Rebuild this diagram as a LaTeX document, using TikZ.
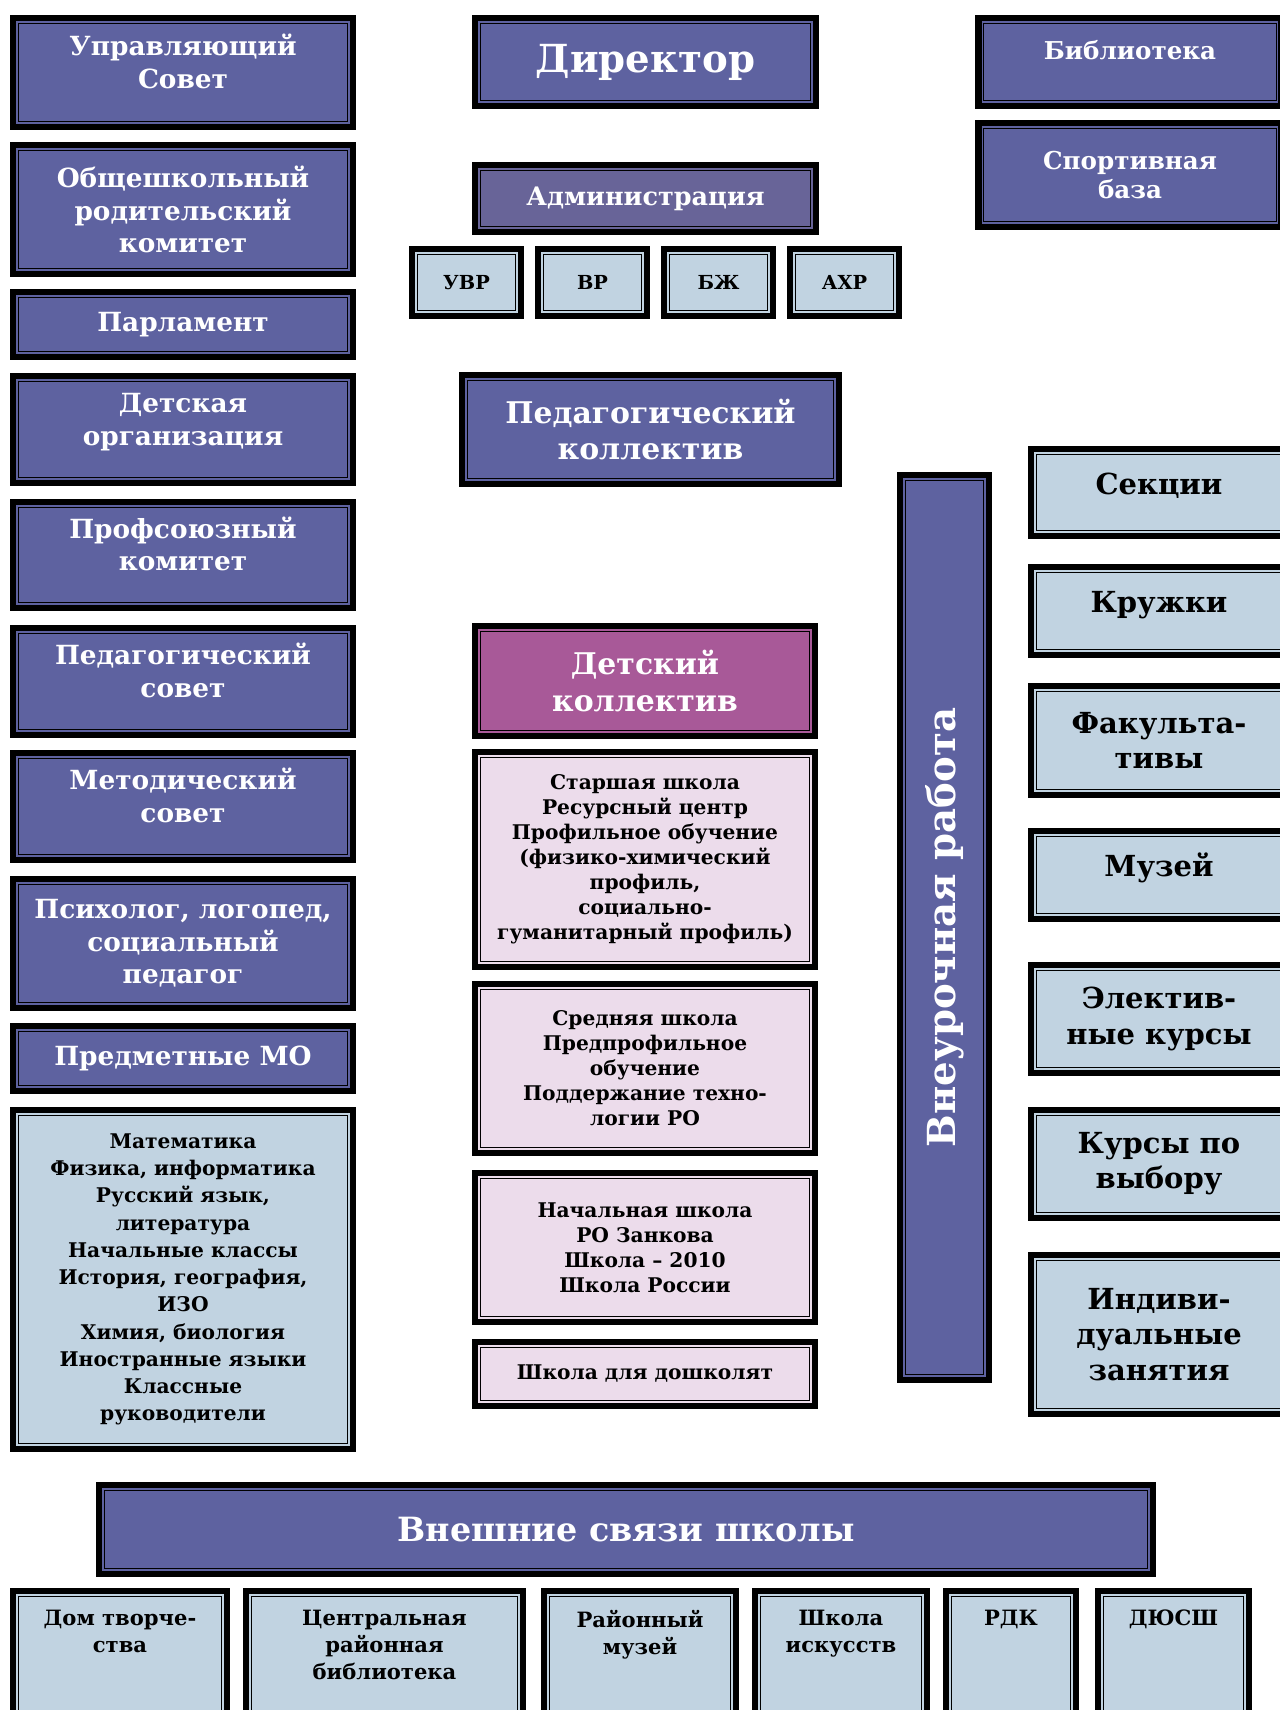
\documentclass[tikz,border=0pt]{standalone}
\usepackage{fontspec}
\setmainfont{DejaVu Serif}
\definecolor{navy}{RGB}{94,98,160}
\definecolor{admblue}{RGB}{104,100,152}
\definecolor{paleblue}{RGB}{193,211,225}
\definecolor{palepink}{RGB}{236,220,235}
\definecolor{plum}{RGB}{168,89,152}
\tikzset{
  framed/.style={fill=#1, draw=black, line width=0.5pt, double=#1, double distance=0.8pt,
    preaction={draw=black, line width=8pt}, inner sep=2pt, align=center},
  darkbox/.style={framed=navy, text=white, font=\bfseries\fontsize{15}{18.5}\selectfont},
  lightbox/.style={framed=paleblue, text=black, font=\bfseries\fontsize{16.5}{20}\selectfont},
  pinkbox/.style={framed=palepink, text=black, font=\bfseries\fontsize{11.5}{14.2}\selectfont},
  smalltext/.style={font=\bfseries\fontsize{11.5}{15.5}\selectfont},
  uptext/.style={text height=30pt, text depth=12pt},
  raised/.style={text height=12pt, text depth=10pt},
  toplabel/.style={anchor=north, inner sep=0pt, yshift=-0.3cm, align=center},
  dims/.style 2 args={minimum width=#1*0.02cm, minimum height=#2*0.02cm},
}
\begin{document}
\begin{tikzpicture}[x=0.02cm, y=-0.02cm]
\useasboundingbox (0,0) rectangle (1280,1710);
\clip (0,0) rectangle (1280,1710);

% left column
\node[darkbox, uptext, dims={332}{101}] (sovet) at (183,72.5) {Управляющий\\Совет};
\node[darkbox, dims={332}{121}] (rodkom) at (183,209.5) {Общешкольный\\родительский\\комитет};
\node[darkbox, dims={332}{57}] (parl) at (183,324.5) {Парламент};
\node[darkbox, uptext, dims={332}{99}] (detorg) at (183,429.5) {Детская\\организация};
\node[darkbox, uptext, dims={332}{98}] (profkom) at (183,555) {Профсоюзный\\комитет};
\node[darkbox, uptext, dims={332}{99}] (pedsov) at (183,681.5) {Педагогический\\совет};
\node[darkbox, uptext, dims={332}{99}] (metsov) at (183,806.5) {Методический\\совет};
\node[darkbox, dims={332}{121}] (psych) at (183,943.5) {Психолог, логопед,\\социальный\\педагог};
\node[darkbox, dims={332}{57}] (predmo) at (183,1058.5) {Предметные МО};
\node[lightbox, smalltext, dims={332}{331}] (subjects) at (183,1279.5)
  {Математика\\Физика, информатика\\Русский язык,\\литература\\Начальные классы\\История, география,\\ИЗО\\Химия, биология\\Иностранные языки\\Классные\\руководители};

% centre column
\node[darkbox, font=\bfseries\fontsize{22}{26}\selectfont, dims={333}{80}] (director) at (645.5,62) {Директор};
\node[darkbox, framed=admblue, font=\bfseries\fontsize{14.5}{17}\selectfont, dims={333}{59}] (admin) at (645.5,198.5) {Администрация};
\node[lightbox, font=\bfseries\fontsize{11}{13}\selectfont, dims={101}{59}] (uvr) at (466.5,282.5) {УВР};
\node[lightbox, font=\bfseries\fontsize{11}{13}\selectfont, dims={101}{59}] (vr) at (592.5,282.5) {ВР};
\node[lightbox, font=\bfseries\fontsize{11}{13}\selectfont, dims={101}{59}] (bzh) at (718.5,282.5) {БЖ};
\node[lightbox, font=\bfseries\fontsize{11}{13}\selectfont, dims={101}{59}] (ahr) at (844.5,282.5) {АХР};
\node[darkbox, font=\bfseries\fontsize{17}{21}\selectfont, dims={369}{101}] (pedkol) at (650.5,429.5) {Педагогический\\коллектив};
\node[darkbox, framed=plum, font=\bfseries\fontsize{17}{21}\selectfont, dims={332}{102}] (detkol) at (645,681) {Детский\\коллектив};
\node[pinkbox, dims={332}{207}] (senior) at (645,859.5)
  {Старшая школа\\Ресурсный центр\\Профильное обучение\\(физико-химический\\профиль,\\социально-\\гуманитарный профиль)};
\node[pinkbox, dims={332}{161}] (middle) at (645,1068.5)
  {Средняя школа\\Предпрофильное\\обучение\\Поддержание техно-\\логии РО};
\node[pinkbox, dims={332}{141}] (primary) at (645,1247.5)
  {Начальная школа\\РО Занкова\\Школа – 2010\\Школа России};
\node[pinkbox, dims={332}{56}] (preschool) at (645,1374) {Школа для дошколят};

% extracurricular
\node[darkbox, rotate=90, font=\bfseries\fontsize{22}{26}\selectfont, dims={897}{81}] (extra) at (944.5,927.5) {Внеурочная работа};
\node[lightbox, raised, dims={248}{79}] (sections) at (1159,492.5) {Секции};
\node[lightbox, raised, dims={248}{80}] (clubs) at (1159,611) {Кружки};
\node[lightbox, dims={248}{101}] (optional) at (1159,740.5) {Факульта-\\тивы};
\node[lightbox, raised, dims={248}{80}] (museum) at (1159,875) {Музей};
\node[lightbox, dims={248}{100}] (elective) at (1159,1019) {Электив-\\ные курсы};
\node[lightbox, dims={248}{100}] (choice) at (1159,1164) {Курсы по\\выбору};
\node[lightbox, dims={248}{151}] (individual) at (1159,1334.5) {Индиви-\\дуальные\\занятия};

% top right
\node[darkbox, dims={295}{80},
  label={[name=libtext, toplabel, yshift=-0.06cm, text=white, font=\bfseries\fontsize{14}{17}\selectfont]north:Библиотека}] (library) at (1130,62) {};
\node[darkbox, font=\bfseries\fontsize{14}{17}\selectfont, dims={295}{96}] (sport) at (1130,175) {Спортивная\\база};

% external links
\node[darkbox, font=\bfseries\fontsize{19}{23}\selectfont, dims={1046}{81}] (external) at (626,1529.5) {Внешние связи школы};
\tikzset{every label/.style={smalltext, font=\bfseries\fontsize{12}{15.5}\selectfont}}
\node[lightbox, dims={206}{158}, label={[name=domt, toplabel]north:{Дом творче-\\ства}}] (dom) at (120,1674) {};
\node[lightbox, dims={269}{158}, label={[name=cbibt, toplabel]north:{Центральная\\районная\\библиотека}}] (cbib) at (384.5,1674) {};
\node[lightbox, dims={184}{158}, label={[name=rmuzt, toplabel]north:{Районный\\музей}}] (rmuz) at (640,1674) {};
\node[lightbox, dims={164}{158}, label={[name=artt, toplabel]north:{Школа\\искусств}}] (art) at (841,1674) {};
\node[lightbox, dims={122}{158}, label={[name=rdkt, toplabel]north:{РДК}}] (rdk) at (1011,1674) {};
\node[lightbox, dims={143}{158}, label={[name=dyussht, toplabel]north:{ДЮСШ}}] (dyussh) at (1173.5,1674) {};
\end{tikzpicture}
\end{document}
